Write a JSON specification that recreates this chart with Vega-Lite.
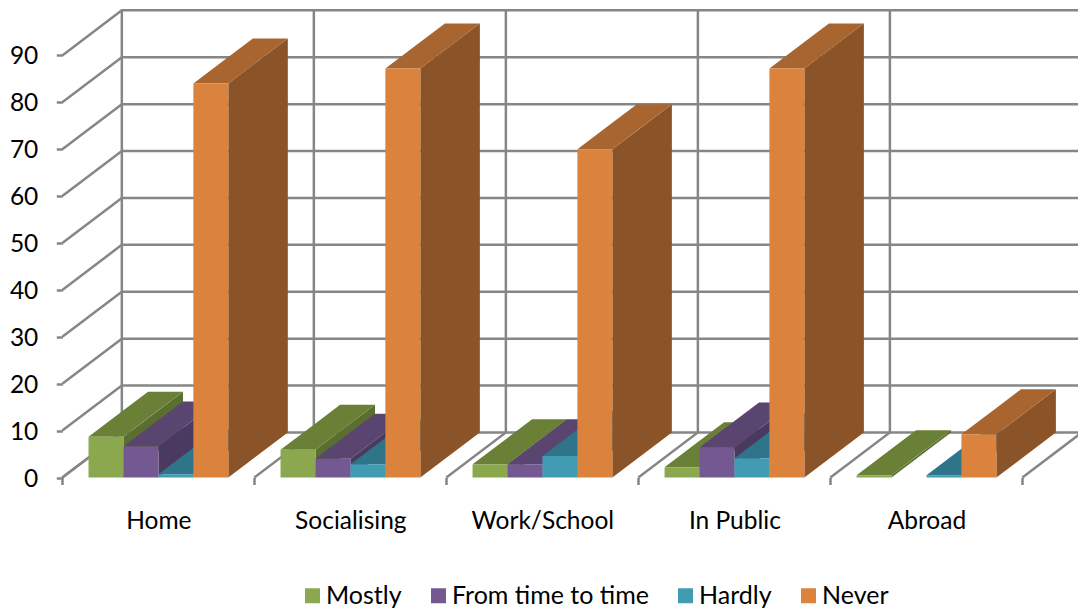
{
  "$schema": "https://vega.github.io/schema/vega-lite/v6.json",
  "width": 1078,
  "height": 610,
  "padding": 0,
  "autosize": "none",
  "background": "white",
  "config": {
    "view": {"stroke": null},
    "font": "Lato"
  },
  "datasets": {
    "answers": [
      {"place": "Home", "series": "Mostly", "value": 8.7},
      {"place": "Home", "series": "From time to time", "value": 6.6},
      {"place": "Home", "series": "Hardly", "value": 0.7},
      {"place": "Home", "series": "Never", "value": 84},
      {"place": "Socialising", "series": "Mostly", "value": 5.9},
      {"place": "Socialising", "series": "From time to time", "value": 4},
      {"place": "Socialising", "series": "Hardly", "value": 2.8},
      {"place": "Socialising", "series": "Never", "value": 87.2},
      {"place": "Work/School", "series": "Mostly", "value": 2.8},
      {"place": "Work/School", "series": "From time to time", "value": 2.8},
      {"place": "Work/School", "series": "Hardly", "value": 4.6},
      {"place": "Work/School", "series": "Never", "value": 70},
      {"place": "In Public", "series": "Mostly", "value": 2.2},
      {"place": "In Public", "series": "From time to time", "value": 6.4},
      {"place": "In Public", "series": "Hardly", "value": 4.1},
      {"place": "In Public", "series": "Never", "value": 87.2},
      {"place": "Abroad", "series": "Mostly", "value": 0.5},
      {"place": "Abroad", "series": "From time to time", "value": 0},
      {"place": "Abroad", "series": "Hardly", "value": 0.5},
      {"place": "Abroad", "series": "Never", "value": 9.2}
    ],
    "levels": [
      {"level": 0}, {"level": 10}, {"level": 20}, {"level": 30}, {"level": 40},
      {"level": 50}, {"level": 60}, {"level": 70}, {"level": 80}, {"level": 90}
    ],
    "columns": [
      {"slot": 0}, {"slot": 1}, {"slot": 2}, {"slot": 3}, {"slot": 4}, {"slot": 5}
    ]
  },
  "encoding": {
    "x": {
      "field": "px",
      "type": "quantitative",
      "title": null,
      "scale": {"domain": [-0.3245, 5.2896], "nice": false, "zero": false},
      "axis": {
        "values": [0, 0.5, 1, 1.5, 2, 2.5, 3, 3.5, 4, 4.5, 5],
        "offset": -132.5,
        "domain": false,
        "grid": false,
        "tickSize": 7,
        "tickWidth": 2.5,
        "tickColor": "#868686",
        "tickOpacity": {"condition": {"test": "datum.value % 1 != 0", "value": 0}, "value": 1},
        "labelExpr": "datum.value % 1 == 0 ? '' : ['Home', 'Socialising', 'Work/School', 'In Public', 'Abroad'][floor(datum.value)]",
        "labelFont": "Lato",
        "labelFontSize": 24.5,
        "labelColor": "#000000",
        "labelPadding": 25,
        "labelOverlap": false,
        "labelFlush": false
      }
    },
    "y": {
      "field": "py",
      "type": "quantitative",
      "title": null,
      "scale": {"domain": [-28.25, 101.81], "nice": false, "zero": false},
      "axis": {
        "values": [0, 10, 20, 30, 40, 50, 60, 70, 80, 90],
        "offset": -62.3,
        "domain": false,
        "grid": false,
        "tickSize": 6,
        "tickWidth": 2.5,
        "tickColor": "#868686",
        "labelFont": "Lato",
        "labelFontSize": 24.5,
        "labelColor": "#000000",
        "labelPadding": 18.5,
        "labelOffset": 1.5,
        "labelOverlap": false
      }
    }
  },
  "layer": [
    {
      "description": "Horizontal grid: side wall up to the back wall, then across it",
      "data": {"name": "levels"},
      "transform": [
        {"calculate": "[0, 1, 2]", "as": "stop"},
        {"flatten": ["stop"]},
        {"calculate": "datum.stop == 0 ? 0 : datum.stop == 1 ? 0.31 : 5.31", "as": "px"},
        {"calculate": "datum.level + (datum.stop == 0 ? 0 : 9.6)", "as": "py"}
      ],
      "mark": {"type": "line", "color": "#868686", "strokeWidth": 2.5, "clip": true},
      "encoding": {
        "detail": {"field": "level", "type": "nominal"},
        "order": {"field": "stop", "type": "quantitative"}
      }
    },
    {
      "description": "Floor divisions running back, continuing up the back wall",
      "data": {"name": "columns"},
      "transform": [
        {"calculate": "[0, 1, 2]", "as": "stop"},
        {"flatten": ["stop"]},
        {"calculate": "datum.slot + (datum.stop == 0 ? 0 : 0.31)", "as": "px"},
        {"calculate": "datum.stop == 0 ? 0 : datum.stop == 1 ? 9.6 : 99.6", "as": "py"}
      ],
      "mark": {"type": "line", "color": "#868686", "strokeWidth": 2.5, "clip": true},
      "encoding": {
        "detail": {"field": "slot", "type": "nominal"},
        "order": {"field": "stop", "type": "quantitative"}
      }
    },
    {
      "description": "Front edge of the side wall",
      "data": {"values": [{"edge": "wall"}]},
      "mark": {"type": "rule", "color": "#868686", "strokeWidth": 2.5},
      "encoding": {
        "x": {"datum": 0},
        "y": {"datum": 0},
        "y2": {"datum": 90}
      }
    },
    {
      "description": "Front edge of the floor",
      "data": {"values": [{"edge": "floor"}]},
      "mark": {"type": "rule", "color": "#868686", "strokeWidth": 2.5},
      "encoding": {
        "x": {"datum": 0},
        "x2": {"datum": 5},
        "y": {"datum": 0}
      }
    },
    {
      "description": "Every box face, painted bar by bar from left to right so nearer faces overlap correctly",
      "data": {"name": "answers"},
      "transform": [
        {"filter": "datum.value > 0"},
        {"calculate": "indexof(['Home', 'Socialising', 'Work/School', 'In Public', 'Abroad'], datum.place)", "as": "slot"},
        {"calculate": "indexof(['Mostly', 'From time to time', 'Hardly', 'Never'], datum.series)", "as": "rank"},
        {"calculate": "datum.slot + 0.1365 + datum.rank * 0.182", "as": "left"},
        {"calculate": "['side', 'top', 'front']", "as": "face"},
        {"flatten": ["face"]},
        {"calculate": "datum.face == 'top' ? [0, 1, 2, 3] : [0, 1]", "as": "stop"},
        {"flatten": ["stop"]},
        {"calculate": "datum.face == 'front' ? datum.series : datum.series + ' ' + datum.face", "as": "paint"},
        {"calculate": "datum.place + '|' + datum.series + '|' + datum.face", "as": "box"},
        {"calculate": "datum.face == 'front' ? datum.left + datum.stop * 0.182 : datum.face == 'side' ? datum.left + 0.182 + datum.stop * 0.31 : datum.left + [0, 0.182, 0.31, 0.492][datum.stop]", "as": "px"},
        {"calculate": "datum.face == 'front' ? datum.value : datum.face == 'side' ? datum.value + datum.stop * 9.6 : datum.value + [0, 5.636, 9.6, 9.6][datum.stop]", "as": "py"},
        {"calculate": "datum.face == 'front' ? 0 : datum.face == 'side' ? datum.stop * 9.6 : datum.value + [0, 0, 3.964, 9.6][datum.stop]", "as": "foot"}
      ],
      "mark": {"type": "area", "line": false, "strokeWidth": 0, "opacity": 1},
      "encoding": {
        "y": {"field": "py", "type": "quantitative", "stack": null},
        "y2": {"field": "foot"},
        "detail": {"field": "box", "type": "nominal"},
        "color": {
          "field": "paint",
          "type": "nominal",
          "scale": {
            "domain": [
              "Mostly", "From time to time", "Hardly", "Never",
              "Mostly side", "From time to time side", "Hardly side", "Never side",
              "Mostly top", "From time to time top", "Hardly top", "Never top"
            ],
            "range": [
              "#8BA84F", "#735892", "#419BB3", "#DB823C",
              "#5A6E30", "#4A3A60", "#2A6677", "#8B5428",
              "#6A8037", "#5A4570", "#2F7488", "#A86530"
            ]
          },
          "legend": {
            "values": ["Mostly", "From time to time", "Hardly", "Never"],
            "orient": "none",
            "legendX": 300,
            "legendY": 583,
            "direction": "horizontal",
            "columns": 4,
            "title": null,
            "symbolType": "square",
            "symbolSize": 225,
            "symbolStrokeWidth": 0,
            "symbolOpacity": 1,
            "labelFont": "Lato",
            "labelFontSize": 25,
            "labelLimit": 400,
            "labelColor": "#000000",
            "labelOffset": 1,
            "columnPadding": 24
          }
        }
      }
    }
  ]
}
